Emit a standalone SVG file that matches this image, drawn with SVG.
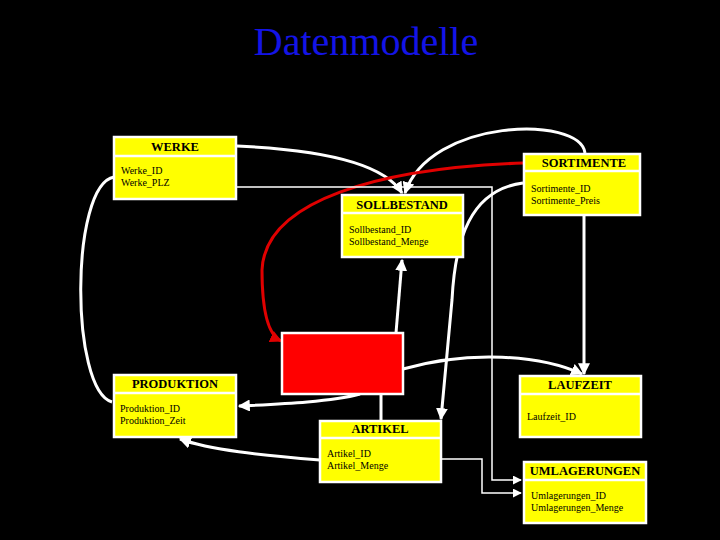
<svg xmlns="http://www.w3.org/2000/svg" width="720" height="540" viewBox="0 0 720 540">
<style>
.box{fill:#ffff00;stroke:#ffffff;stroke-width:2.5}
.sep{stroke:#ffffff;stroke-width:2.5}
.h{font-family:"Liberation Serif",serif;font-weight:bold;font-size:12.5px;fill:#000;text-anchor:middle}
.a{font-family:"Liberation Serif",serif;font-size:10px;fill:#000}
.c{fill:none;stroke:#ffffff;stroke-width:3}
.t{fill:none;stroke:#ffffff;stroke-width:1.5}
</style>
<defs>
<marker id="ar" viewBox="0 0 10 10" refX="9" refY="5" markerWidth="4" markerHeight="4" orient="auto" markerUnits="strokeWidth"><path d="M0,0L10,5L0,10z" fill="#fff"/></marker>
<marker id="ar2" viewBox="0 0 10 10" refX="9" refY="5" markerWidth="6" markerHeight="6" orient="auto" markerUnits="strokeWidth"><path d="M0,0L10,5L0,10z" fill="#fff"/></marker>
<marker id="arr" viewBox="0 0 10 10" refX="9" refY="5" markerWidth="4" markerHeight="4" orient="auto" markerUnits="strokeWidth"><path d="M0,0L10,5L0,10z" fill="#e00000"/></marker>
</defs>
<rect width="720" height="540" fill="#000"/>
<text x="366" y="55" font-family="Liberation Serif,serif" font-size="40" fill="#1414e6" text-anchor="middle">Datenmodelle</text>
<g id="connectors">
<path class="c" d="M237,146 C330,150 385,165 402,193" marker-end="url(#ar)"/>
<path class="c" d="M585,153 C580,115 430,118 405,193" marker-end="url(#ar)"/>
<path fill="none" stroke="#e00000" stroke-width="3" d="M523,163 C380,168 265,200 262,270 C262,310 268,335 281,341" marker-end="url(#arr)"/>
<path class="t" d="M237,187 H492 V480 H521" marker-end="url(#ar2)"/>
<path class="t" d="M441,459 H482 V493 H521" marker-end="url(#ar2)"/>
<path class="c" d="M114,177 C70,185 70,390 112,402"/>
<path class="c" d="M523,183 C470,190 455,240 452,300 L441,419" marker-end="url(#ar)"/>
<path class="c" d="M584,215 V374" marker-end="url(#ar)"/>
<path class="c" d="M403,369 C470,350 540,355 582,374" marker-end="url(#ar)"/>
<path class="c" d="M360,394 C330,402 280,404 239,406" marker-end="url(#ar)"/>
<path class="c" d="M381,394 V421"/>
<path class="c" d="M320,460 C260,455 210,450 180,439" marker-end="url(#ar)"/>
<path class="c" d="M396,333 L402,260" marker-end="url(#ar)"/>
</g>
<g id="werke"><rect class="box" x="114" y="137" width="122" height="62"/><line class="sep" x1="114" y1="156" x2="236" y2="156"/><text class="h" x="175" y="151">WERKE</text><text class="a" x="121" y="174">Werke_ID</text><text class="a" x="121" y="186">Werke_PLZ</text></g>
<g id="sortimente"><rect class="box" x="524" y="154" width="116" height="61"/><line class="sep" x1="524" y1="171" x2="640" y2="171"/><text class="h" x="584" y="167">SORTIMENTE</text><text class="a" x="531" y="192">Sortimente_ID</text><text class="a" x="531" y="204">Sortimente_Preis</text></g>
<g id="sollbestand"><rect class="box" x="342" y="195" width="121" height="62"/><line class="sep" x1="342" y1="213" x2="463" y2="213"/><text class="h" x="402" y="209">SOLLBESTAND</text><text class="a" x="349" y="233">Sollbestand_ID</text><text class="a" x="349" y="245">Sollbestand_Menge</text></g>
<g id="rot"><rect x="282" y="333" width="121" height="61" fill="#ff0000" stroke="#fff" stroke-width="2.5"/></g>
<g id="produktion"><rect class="box" x="114" y="375" width="122" height="62"/><line class="sep" x1="114" y1="393" x2="236" y2="393"/><text class="h" x="175" y="388">PRODUKTION</text><text class="a" x="120" y="412">Produktion_ID</text><text class="a" x="120" y="424">Produktion_Zeit</text></g>
<g id="laufzeit"><rect class="box" x="520" y="376" width="121" height="61"/><line class="sep" x1="520" y1="394" x2="641" y2="394"/><text class="h" x="580" y="389">LAUFZEIT</text><text class="a" x="527" y="420">Laufzeit_ID</text></g>
<g id="artikel"><rect class="box" x="320" y="421" width="121" height="61"/><line class="sep" x1="320" y1="438" x2="441" y2="438"/><text class="h" x="380" y="433">ARTIKEL</text><text class="a" x="327" y="457">Artikel_ID</text><text class="a" x="327" y="469">Artikel_Menge</text></g>
<g id="umlagerungen"><rect class="box" x="524" y="462" width="122" height="61"/><line class="sep" x1="524" y1="480" x2="646" y2="480"/><text class="h" x="585" y="475">UMLAGERUNGEN</text><text class="a" x="531" y="499">Umlagerungen_ID</text><text class="a" x="531" y="511">Umlagerungen_Menge</text></g>
</svg>
